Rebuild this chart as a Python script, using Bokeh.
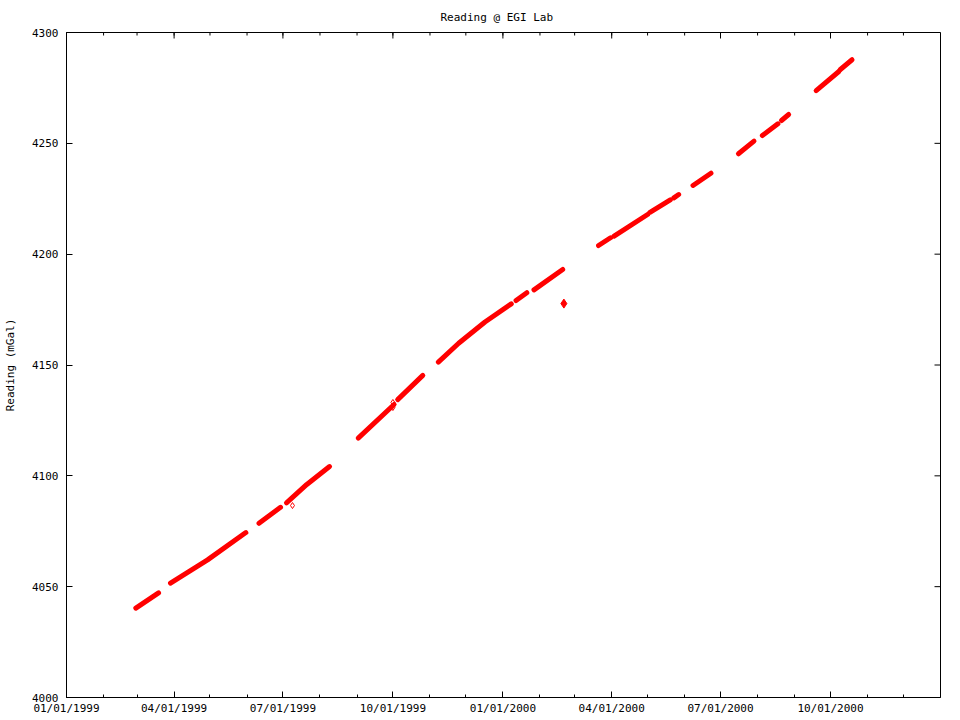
import math
import pandas as pd
from bokeh.plotting import figure
from bokeh.models import ColumnDataSource, Range1d, FixedTicker, DatetimeTickFormatter
from bokeh.embed import file_html
from bokeh.resources import INLINE

# ---- data (date, reading in mGal, continuous run id) ----
dates = [
    "1999-02-28", "1999-03-19",
    "1999-03-29", "1999-04-29", "1999-05-31",
    "1999-06-11", "1999-06-29",
    "1999-07-04", "1999-07-21", "1999-08-09",
    "1999-09-02", "1999-10-02",
    "1999-10-05", "1999-10-26",
    "1999-11-08", "1999-11-25", "1999-12-17", "2000-01-08",
    "2000-01-12", "2000-01-21",
    "2000-01-27", "2000-02-20",
    "2000-03-21", "2000-03-31",
    "2000-04-03", "2000-05-01",
    "2000-05-03", "2000-05-20",
    "2000-05-23", "2000-05-27",
    "2000-06-08", "2000-06-23",
    "2000-07-16", "2000-07-29",
    "2000-08-05", "2000-08-18",
    "2000-08-21", "2000-08-27",
    "2000-09-19", "2000-10-08",
    "2000-10-09", "2000-10-19",
]
readings = [
    4040.3, 4047.2,
    4051.6, 4062.1, 4074.4,
    4078.6, 4085.8,
    4087.8, 4096.1, 4104.2,
    4117.0, 4132.2,
    4134.4, 4145.3,
    4151.3, 4159.8, 4169.4, 4177.6,
    4179.1, 4182.6,
    4183.9, 4193.1,
    4203.9, 4207.4,
    4208.1, 4217.9,
    4218.9, 4224.5,
    4225.4, 4226.9,
    4231.0, 4236.5,
    4245.3, 4251.0,
    4253.5, 4258.8,
    4260.3, 4263.0,
    4273.8, 4282.4,
    4283.2, 4287.7,
]
run_id = [
    1, 1,
    2, 2, 2,
    3, 3,
    4, 4, 4,
    5, 5,
    6, 6,
    7, 7, 7, 7,
    8, 8,
    9, 9,
    10, 10,
    11, 11,
    12, 12,
    13, 13,
    14, 14,
    15, 15,
    16, 16,
    17, 17,
    18, 18,
    19, 19,
]

# isolated reading
outlier_dates = ["2000-02-21"]
outlier_readings = [4177.7]

# second series: small open diamonds
check_dates = ["1999-07-09", "1999-10-01", "1999-10-01"]
check_readings = [4086.6, 4133.1, 4130.8]

major_tick_dates = ["1999-01-01", "1999-04-01", "1999-07-01", "1999-10-01",
                    "2000-01-01", "2000-04-01", "2000-07-01", "2000-10-01"]
minor_tick_dates = [f"{y}-{m:02d}-01" for y in (1999, 2000) for m in range(1, 13)]
y_ticks = [4000, 4050, 4100, 4150, 4200, 4250, 4300]

x_start, x_end = "1999-01-01", "2001-01-01"
y_start, y_end = 4000, 4300


def ms(lst):
    return list(pd.to_datetime(lst).asi8 // 10**6)


t = ms(dates)
xs, ys = [], []
for i, rid in enumerate(run_id):
    if i == 0 or rid != run_id[i - 1]:
        xs.append([])
        ys.append([])
    xs[-1].append(t[i])
    ys[-1].append(readings[i])

FONT = "DejaVu Sans Mono"
FS = "11px"

x0, x1 = ms([x_start])[0], ms([x_end])[0]

p = figure(width=952, height=718, x_axis_type="datetime",
           x_range=Range1d(x0, x1),
           y_range=Range1d(y_start, y_end),
           output_backend="svg", toolbar_location=None,
           min_border_left=66, min_border_right=12,
           min_border_top=32, min_border_bottom=21)

p.title.text = "Reading @ EGI Lab"
p.title.align = "left"
p.title.offset = 374
p.title.text_font = FONT
p.title.text_font_size = FS
p.title.text_font_style = "normal"
p.title.text_color = "black"
p.title.standoff = 17

p.grid.visible = False
p.outline_line_color = "black"
p.outline_line_width = 1
p.background_fill_color = "white"
p.border_fill_color = "white"

xticker = FixedTicker(ticks=ms(major_tick_dates), minor_ticks=ms(minor_tick_dates))
fmt = "%m/%d/%Y"
xfmt = DatetimeTickFormatter(milliseconds=fmt, seconds=fmt, minsec=fmt, minutes=fmt,
                             hourmin=fmt, hours=fmt, days=fmt, months=fmt, years=fmt)
yticker = FixedTicker(ticks=y_ticks, minor_ticks=[])


def style(ax):
    ax.axis_line_color = "black"
    ax.major_tick_line_color = "black"
    ax.minor_tick_line_color = "black"
    ax.major_tick_in = 6
    ax.major_tick_out = 0
    ax.minor_tick_in = 3
    ax.minor_tick_out = 0
    ax.major_label_text_font = FONT
    ax.major_label_text_color = "black"
    ax.major_label_text_font_size = FS


xa = p.xaxis[0]
xa.ticker = xticker
xa.formatter = xfmt
style(xa)
xa.major_label_standoff = 4

ya = p.yaxis[0]
ya.ticker = yticker
style(ya)
ya.major_label_standoff = 8
ya.axis_label = "Reading (mGal)"
ya.axis_label_text_font = FONT
ya.axis_label_text_font_size = FS
ya.axis_label_text_font_style = "normal"
ya.axis_label_text_color = "black"
ya.axis_label_standoff = 12

# mirrored inward ticks on the top and right edges (half of each dash is clipped by the frame)
p.scatter(ms(major_tick_dates), [y_end] * len(major_tick_dates), marker="dash",
          angle=math.pi / 2, size=12, line_color="black", line_width=1)
p.scatter(ms(minor_tick_dates), [y_end] * len(minor_tick_dates), marker="dash",
          angle=math.pi / 2, size=6, line_color="black", line_width=1)
p.scatter([x1] * len(y_ticks), y_ticks, marker="dash", size=12,
          line_color="black", line_width=1)

src = ColumnDataSource(dict(xs=xs, ys=ys))
p.multi_line("xs", "ys", source=src, line_color="red", line_width=5,
             line_cap="round", line_join="round")

p.scatter(ms(outlier_dates), outlier_readings, marker="diamond", size=9,
          fill_color="red", line_color="red")
p.scatter(ms(check_dates), check_readings, marker="diamond", size=6,
          fill_color=None, line_color="red", line_width=1)

open("out.html", "w").write(file_html(p, INLINE))
